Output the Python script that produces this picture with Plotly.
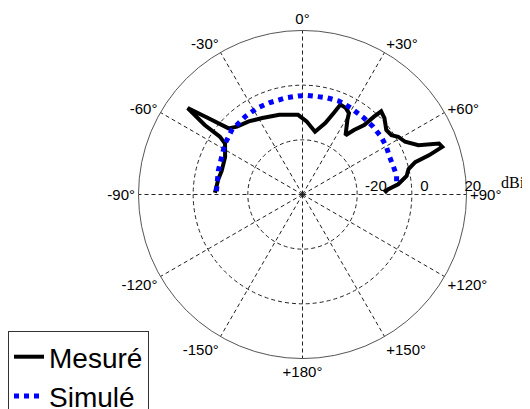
import plotly.graph_objects as go

# Measured pattern (angle in degrees, gain in dBi)
mes_theta = [-88.9, -79.7, -73.6, -64.2, -56.7, -55.0, -54.6, -53.0, -51.0, -48.2,
             -44.0, -36.3, -27.7, -16.2, -3.2, 3.2, 11.3, 17.7, 21.0, 22.9,
             26.5, 29.7, 31.0, 36.0, 38.6, 41.6, 42.6, 43.4, 47.0, 52.4,
             56.3, 58.9, 62.8, 67.0, 69.5, 71.2, 72.8, 74.0, 76.5, 79.9,
             83.9, 86.6, 88.8]
mes_r = [-7.95, -8.7, -9.2, -8.55, -6.1, -3.1, 3.9, 12.6, 4.5, -3.7,
         -5.5, -6.8, -8.4, -9.6, -10.8, -13.2, -16.6, -12.6, -8.1, -4.3,
         -4.6, -5.7, -8.1, -13.2, -9.8, -6.0, -1.2, 1.9, 1.0, -1.3,
         -0.9, 0.9, 2.2, 6.1, 13.3, 14.0, 8.4, 2.9, -0.1, -1.3,
         -4.8, -8.7, -10.0]

# Simulated pattern
sim_theta = [-87.8, -74.3, -65.2, -56.7, -47.6, -36.1, -27.6, -20.0, -9.6, -2.6,
             3.0, 14.0, 21.2, 29.0, 38.9, 46.0, 53.7, 60.4, 66.8, 72.4,
             78.8, 84.2]
sim_r = [-8.5, -8.0, -7.4, -6.1, -5.0, -4.6, -4.3, -4.3, -4.1, -3.9,
         -3.7, -3.5, -3.3, -3.7, -4.1, -4.2, -4.3, -4.7, -5.3, -5.2,
         -4.9, -5.4]

ang_vals = [0, 30, 60, 90, 120, 150, 180, 210, 240, 270, 300, 330]
ang_text = ["0°", "+30°", "+60°", "+90°", "+120°", "+150°", "+180°",
            "-150°", "-120°", "-90°", "-60°", "-30°"]
rad_vals = [-20, 0, 20]
rad_text = ["-20", "0", "20"]
rad_pad = [9, 6, 3]  # leading spaces to push each label right of its circle

# the page body has an 8px margin: size the figure to fit and map screen px to paper
W, H, OFF = 522, 401, 8


def px(x):
    return (x - OFF) / W


def py(y):
    return 1 - (y - OFF) / H


fig = go.Figure()
fig.add_trace(go.Scatterpolar(theta=mes_theta, r=mes_r, mode="lines", name="Mesuré",
                              line=dict(color="black", width=4)))
fig.add_trace(go.Scatterpolar(theta=sim_theta, r=sim_r, mode="lines", name="Simulé",
                              line=dict(color="#0000FF", width=5, dash="dot")))

font = "Liberation Sans, Arial, sans-serif"
fig.update_layout(
    width=W, height=H,
    margin=dict(l=0, r=0, t=0, b=0, autoexpand=False),
    paper_bgcolor="white",
    font=dict(family=font, color="black"),
    polar=dict(
        domain=dict(x=[px(138.5), px(466.5)], y=[py(358.5), py(30.5)]),
        bgcolor="white",
        angularaxis=dict(
            rotation=90, direction="clockwise",
            tickmode="array", tickvals=ang_vals, ticktext=ang_text,
            tickfont=dict(size=15, family=font, color="black"),
            ticks="",
            showline=True, linecolor="#555555", linewidth=1,
            showgrid=True, gridcolor="#222222", gridwidth=1, griddash="4px,3px",
        ),
        radialaxis=dict(
            range=[-40, 20], angle=0, side="counterclockwise",
            tickmode="array", tickvals=rad_vals,
            ticktext=["\u00a0" * p + t for p, t in zip(rad_pad, rad_text)],
            tickfont=dict(size=15, family=font, color="black"),
            ticks="", showline=False,
            showgrid=True, gridcolor="#222222", gridwidth=1, griddash="4px,3px",
        ),
    ),
    legend=dict(
        x=0, y=py(331), xanchor="left", yanchor="top",
        bgcolor="white", bordercolor="#333333", borderwidth=1,
        font=dict(size=28, family=font, color="black"),
        tracegroupgap=0,
    ),
    annotations=[dict(text="dBi", x=px(499), y=py(182), xref="paper", yref="paper",
                      xanchor="left", yanchor="middle", showarrow=False,
                      font=dict(family="Liberation Serif, Times New Roman, serif",
                                size=16, color="black"))],
)

fig.write_html("out.html")
